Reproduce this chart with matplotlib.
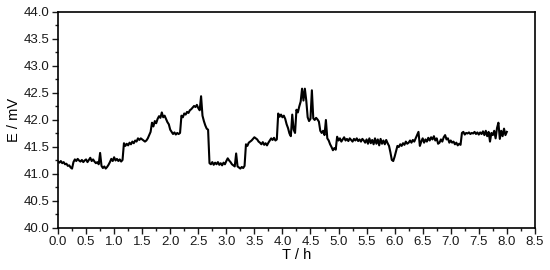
import numpy as np
import matplotlib
matplotlib.use("Agg")
import matplotlib.pyplot as plt
from matplotlib.ticker import MultipleLocator

plt.rcParams['font.family'] = ['Liberation Sans', 'DejaVu Sans']

# potential readings, one every 0.025 h (0 .. 8 h)
E = [
    # 0.0 - 0.475
    41.23, 41.21, 41.24, 41.20, 41.22, 41.18, 41.19, 41.15, 41.16, 41.12,
    41.10, 41.22, 41.27, 41.24, 41.28, 41.25, 41.23, 41.26, 41.22, 41.25,
    # 0.5 - 0.975
    41.27, 41.22, 41.26, 41.30, 41.24, 41.27, 41.23, 41.20, 41.22, 41.18,
    41.39, 41.15, 41.11, 41.14, 41.10, 41.13, 41.17, 41.22, 41.28, 41.24,
    # 1.0 - 1.475
    41.31, 41.25, 41.28, 41.24, 41.27, 41.23, 41.26, 41.57, 41.52, 41.56,
    41.53, 41.58, 41.55, 41.60, 41.57, 41.62, 41.60, 41.66, 41.63, 41.66,
    # 1.5 - 1.975
    41.64, 41.62, 41.60, 41.62, 41.66, 41.72, 41.78, 41.95, 41.88, 41.98,
    41.94, 42.02, 42.07, 42.04, 42.14, 42.05, 42.08, 42.02, 41.96, 41.92,
    # 2.0 - 2.475
    41.82, 41.78, 41.74, 41.77, 41.73, 41.76, 41.74, 41.76, 42.08, 42.05,
    42.12, 42.10, 42.15, 42.13, 42.18, 42.20, 42.23, 42.26, 42.24, 42.28,
    # 2.5 - 2.975
    42.22, 42.18, 42.44, 42.08, 41.98, 41.90, 41.84, 41.82, 41.20, 41.18,
    41.22, 41.17, 41.21, 41.18, 41.22, 41.17, 41.20, 41.16, 41.21, 41.18,
    # 3.0 - 3.475
    41.24, 41.29, 41.25, 41.22, 41.18, 41.16, 41.14, 41.38, 41.14, 41.12,
    41.10, 41.13, 41.11, 41.15, 41.55, 41.52, 41.58, 41.60, 41.62, 41.65,
    # 3.5 - 3.975
    41.68, 41.66, 41.64, 41.60, 41.58, 41.55, 41.59, 41.54, 41.57, 41.53,
    41.58, 41.62, 41.66, 41.63, 41.67, 41.62, 41.64, 42.12, 42.06, 42.10,
    # 4.0 - 4.475
    42.05, 42.08, 42.02, 41.92, 41.85, 41.75, 41.70, 42.10, 41.82, 41.76,
    42.19, 42.14, 42.25, 42.34, 42.58, 42.36, 42.58, 42.36, 42.05, 41.98,
    # 4.5 - 4.975
    42.02, 42.55, 42.03, 42.00, 42.04, 42.01, 41.97, 41.80, 41.76, 41.80,
    41.72, 42.00, 41.66, 41.62, 41.55, 41.50, 41.44, 41.48, 41.45, 41.69,
    # 5.0 - 5.475
    41.62, 41.66, 41.60, 41.64, 41.68, 41.62, 41.65, 41.61, 41.66, 41.63,
    41.60, 41.65, 41.62, 41.66, 41.61, 41.64, 41.60, 41.65, 41.62, 41.58,
    # 5.5 - 5.975
    41.64, 41.56, 41.66, 41.57, 41.63, 41.55, 41.66, 41.56, 41.64, 41.53,
    41.65, 41.56, 41.62, 41.55, 41.63, 41.57, 41.52, 41.40, 41.26, 41.24,
    # 6.0 - 6.475
    41.32, 41.42, 41.52, 41.50, 41.55, 41.52, 41.57, 41.54, 41.60, 41.56,
    41.58, 41.62, 41.58, 41.63, 41.60, 41.66, 41.72, 41.78, 41.52, 41.60,
    # 6.5 - 6.975
    41.66, 41.58, 41.64, 41.60, 41.67, 41.62, 41.68, 41.64, 41.70, 41.62,
    41.66, 41.56, 41.58, 41.64, 41.60, 41.68, 41.72, 41.64, 41.66, 41.58,
    # 7.0 - 7.475
    41.62, 41.58, 41.60, 41.55, 41.58, 41.53, 41.56, 41.54, 41.76, 41.78,
    41.73, 41.76, 41.75, 41.77, 41.74, 41.76, 41.75, 41.78, 41.74, 41.77,
    # 7.5 - 8.0
    41.73, 41.77, 41.74, 41.79, 41.72, 41.80, 41.70, 41.78, 41.60, 41.76,
    41.72, 41.80, 41.66, 41.85, 41.95, 41.65, 41.80, 41.70, 41.84, 41.72,
    41.78,
]
T = np.linspace(0, 8.0, len(E))  # sampling times, h

fig = plt.figure(figsize=(5.5, 2.7), dpi=100)
ax = fig.add_axes([0.1055, 0.1556, 0.867, 0.80])

ax.plot(T, E, color='black', linewidth=1.5)

ax.set_xlim(0, 8.5)
ax.set_ylim(40.0, 44.0)
ax.xaxis.set_major_locator(MultipleLocator(0.5))
ax.xaxis.set_minor_locator(MultipleLocator(0.25))
ax.yaxis.set_major_locator(MultipleLocator(0.5))
ax.yaxis.set_minor_locator(MultipleLocator(0.25))
ax.xaxis.set_major_formatter(lambda v, p: f'{v:.1f}')
ax.yaxis.set_major_formatter(lambda v, p: f'{v:.1f}')

ax.tick_params(which='both', direction='out', top=False, right=False,
               labelsize=9.5, colors='#1a1a1a', width=1.0, pad=2)
ax.tick_params(which='major', length=4)
ax.tick_params(which='minor', length=2)
for s in ax.spines.values():
    s.set_linewidth(1.2)

ax.set_xlabel('T / h', fontsize=10.5, labelpad=0)
ax.set_ylabel('E / mV', fontsize=10.5, labelpad=2)

fig.savefig('out.png', dpi=100)
